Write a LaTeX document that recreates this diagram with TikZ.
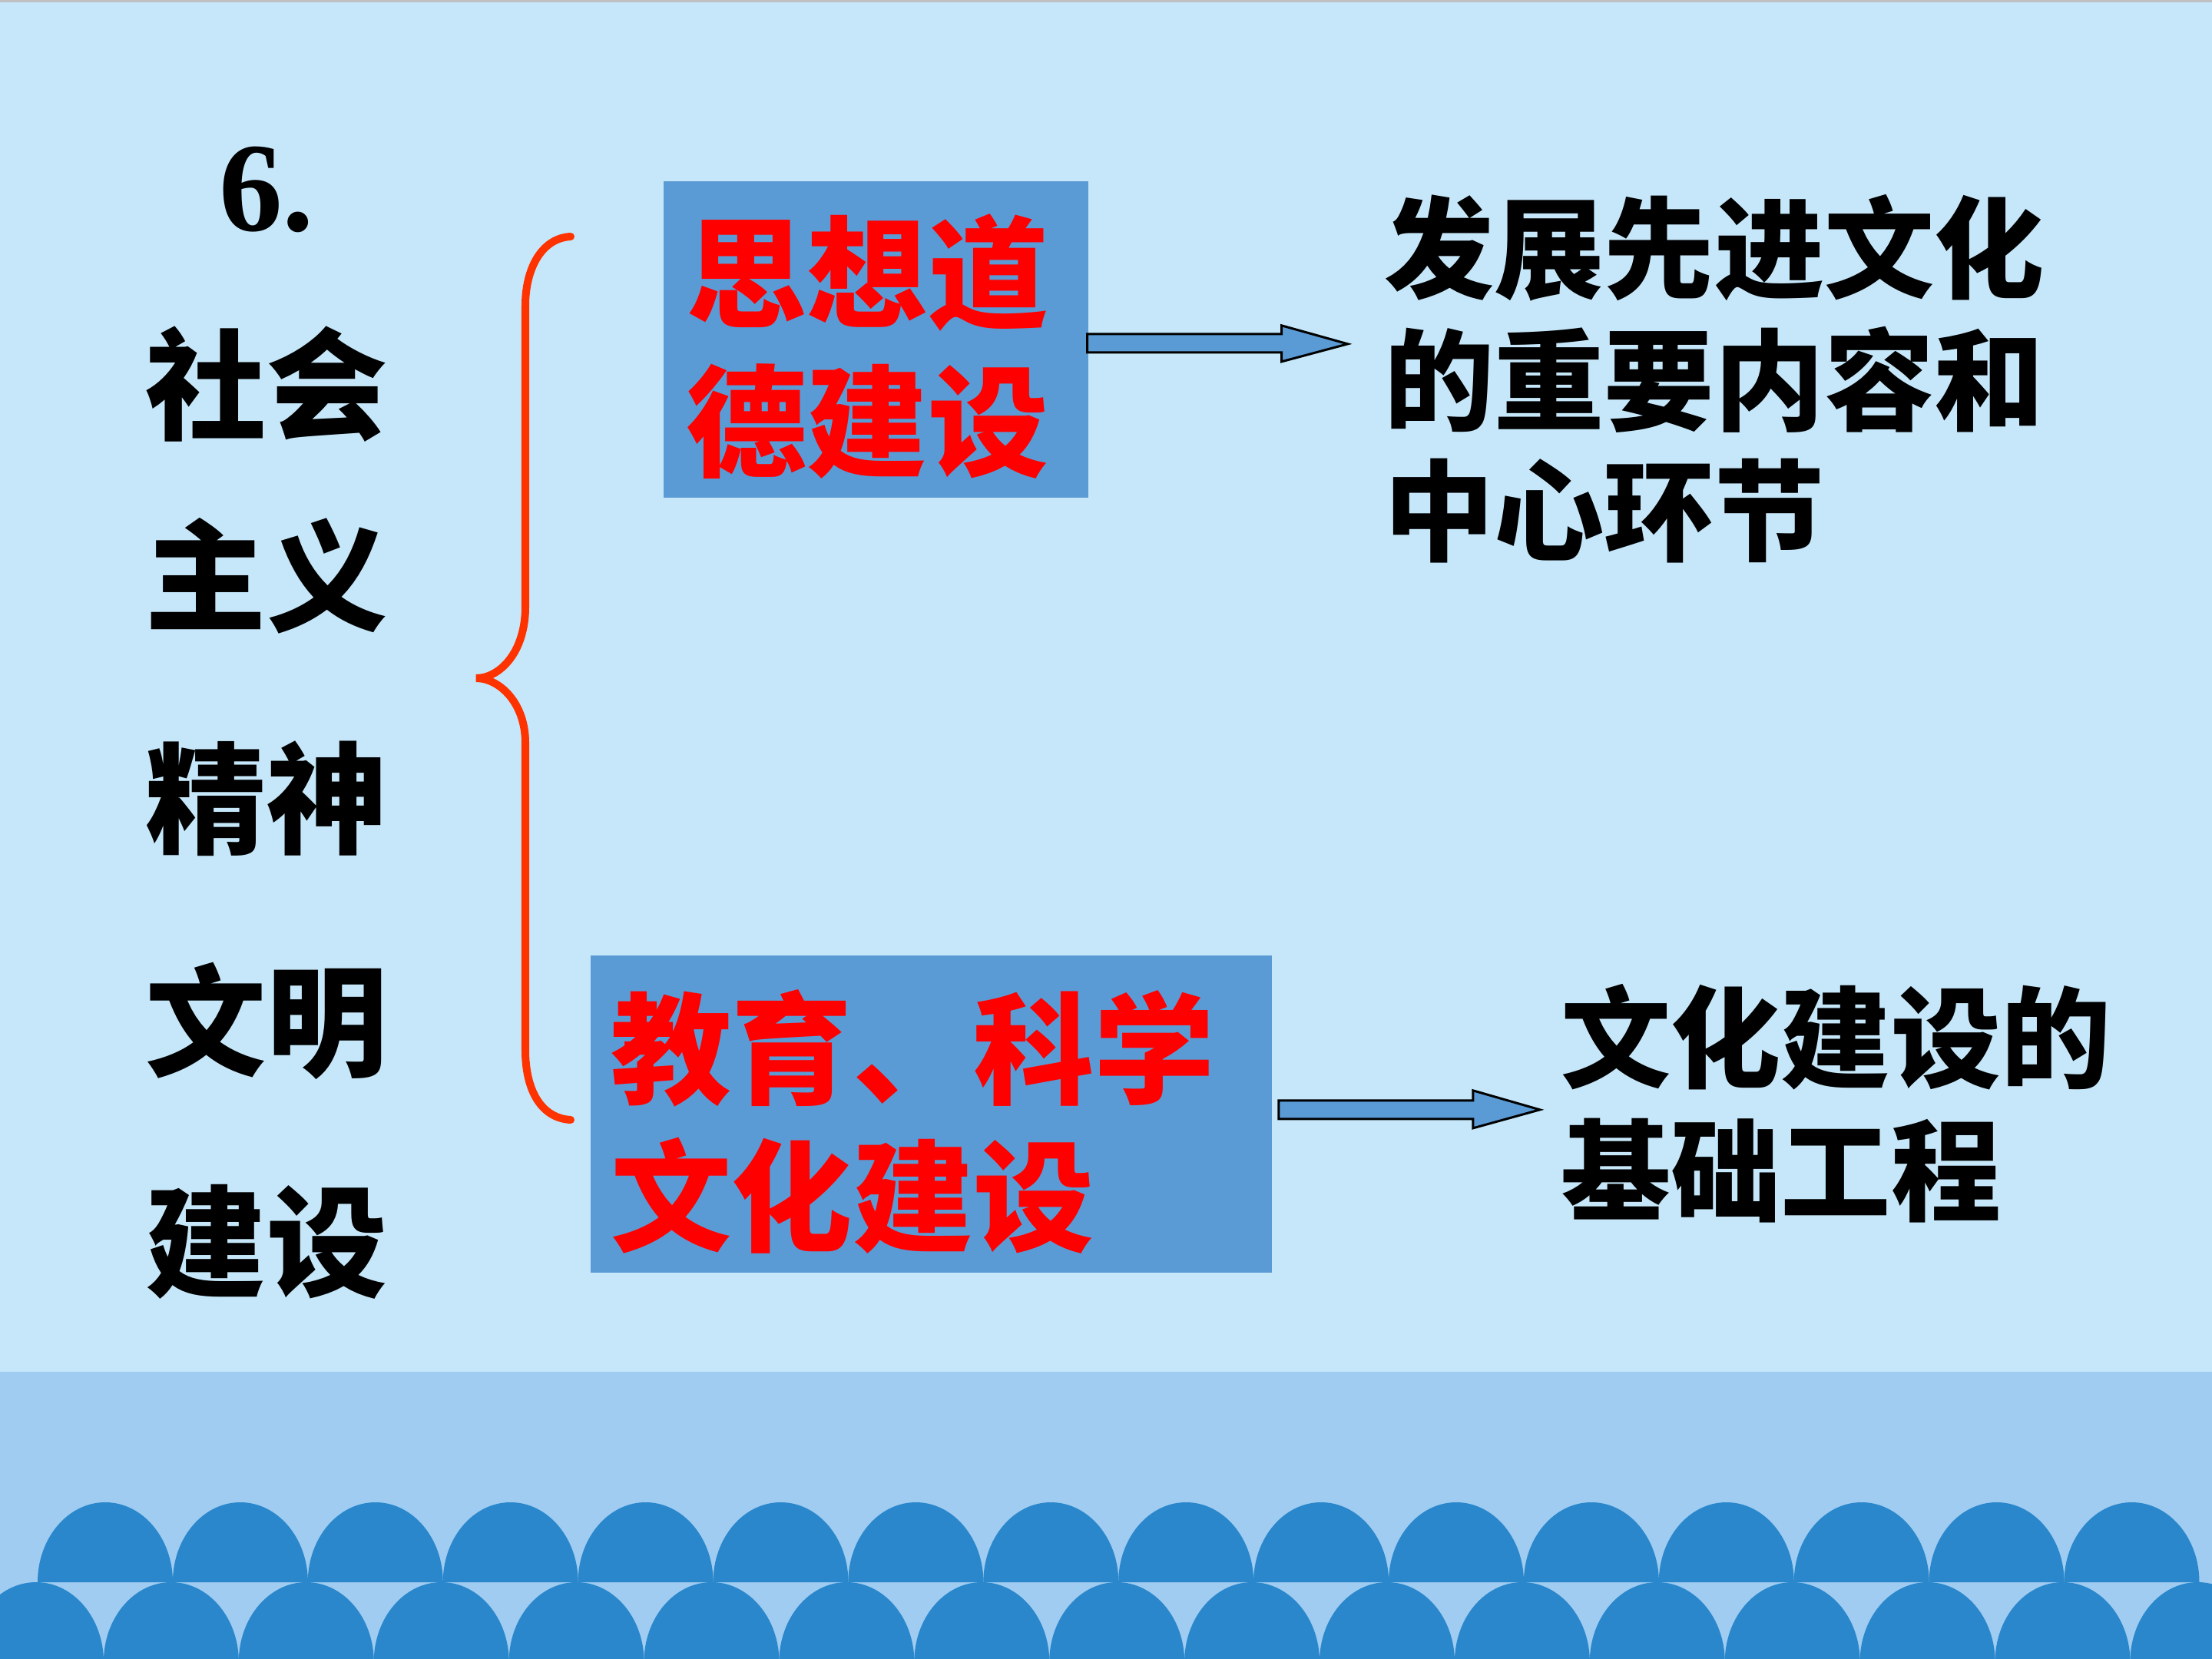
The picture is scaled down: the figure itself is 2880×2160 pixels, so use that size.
\documentclass[tikz,border=0pt]{standalone}
\usepackage{fontspec}
\newfontfamily\cjk{Noto Sans CJK SC}
\setmainfont{Liberation Serif}
\usetikzlibrary{calc}
\definecolor{bgtop}{HTML}{C5E7F9}
\definecolor{band}{HTML}{9FCCF0}
\definecolor{bump}{HTML}{2A87CC}
\definecolor{boxblue}{HTML}{5B9BD5}
\definecolor{bracered}{HTML}{FF3300}
\definecolor{txtred}{HTML}{FF0000}
\definecolor{topline}{HTML}{C0C0C0}
\tikzset{
  lefttxt/.style={inner sep=0, font=\cjk\bfseries\fontsize{44.7}{50}\selectfont},
  numtxt/.style={inner sep=0, font=\rmfamily\bfseries\fontsize{47}{52}\selectfont},
  redtxt/.style={inner sep=0, anchor=west, text=txtred, font=\cjk\bfseries\fontsize{44.7}{50}\selectfont},
  righttxt/.style={inner sep=0, anchor=west, font=\cjk\bfseries\fontsize{40.7}{46}\selectfont},
  bluebox/.style={fill=boxblue, draw=none, inner sep=0, anchor=north west},
  fatarrow/.style={fill=boxblue, draw=black, line width=0.85pt, line join=miter},
  bracket/.style={draw=bracered, line width=2.85pt, line cap=round},
}
\begin{document}
\begin{tikzpicture}[x=0.01cm,y=-0.01cm]
\useasboundingbox (0,0) rectangle (2880,2160);
\clip (0,0) rectangle (2880,2160);
% background
\fill[bgtop] (0,0) rectangle (2880,1786);
\fill[band] (0,1786) rectangle (2880,2160);
\fill[topline] (0,0) rectangle (2880,3);
% bumps
\foreach \k in {0,...,15}{
  \fill[bump] ({137+175.9*\k-88},2060) arc[start angle=180, end angle=360, x radius=88, y radius=104] -- cycle;
}
\foreach \k in {0,...,16}{
  \fill[bump] ({47+175.9*\k-88},2164) arc[start angle=180, end angle=360, x radius=88, y radius=104] -- cycle;
}
% number and left title
\node[numtxt] (num) at (347,247) {6.};
\node[lefttxt] (l1) at (347,500) {社会};
\node[lefttxt] (l2) at (347,750) {主义};
\node[lefttxt] (l3) at (347,1040) {精神};
\node[lefttxt] (l4) at (347,1329) {文明};
\node[lefttxt] (l5) at (347,1617) {建设};
% brace
\draw[bracket] (743,308) .. controls (705,310) and (684,350) .. (684,398)
  -- (684,790) .. controls (684,850) and (650,883) .. (620,883)
  .. controls (650,883) and (684,915) .. (684,967)
  -- (684,1367) .. controls (684,1420) and (705,1456) .. (743,1458);
% boxes
\node[bluebox, minimum width=5.53cm, minimum height=4.12cm] (b1) at (863,235) {};
\node[bluebox, minimum width=8.87cm, minimum height=4.13cm] (b2) at (768,1243) {};
\node[redtxt] (r1) at (893,355) {思想道};
\node[redtxt] (r2) at (893,549) {德建设};
\node[redtxt] (r3) at (795,1365) {教育、科学};
\node[redtxt] (r4) at (795,1557) {文化建设};
% right texts
\node[righttxt] (t1) at (1802,323) {发展先进文化};
\node[righttxt] (t2) at (1802,494) {的重要内容和};
\node[righttxt] (t3) at (1802,665) {中心环节};
\node[righttxt] (t4) at (2032,1350) {文化建设的};
\node[righttxt] (t5) at (2032,1524) {基础工程};
% arrows
\draw[fatarrow] ($(b1.east)+(-2,-7)$) -- ++(253,0) -- ++(0,-11) -- ++(86,24) -- ++(-86,23) -- ++(0,-12) -- ++(-253,0) -- cycle;
\draw[fatarrow] ($(b2.east)+(8,-17.5)$) -- ++(253,0) -- ++(0,-13) -- ++(87,25) -- ++(-87,24) -- ++(0,-12) -- ++(-253,0) -- cycle;
\end{tikzpicture}
\end{document}
